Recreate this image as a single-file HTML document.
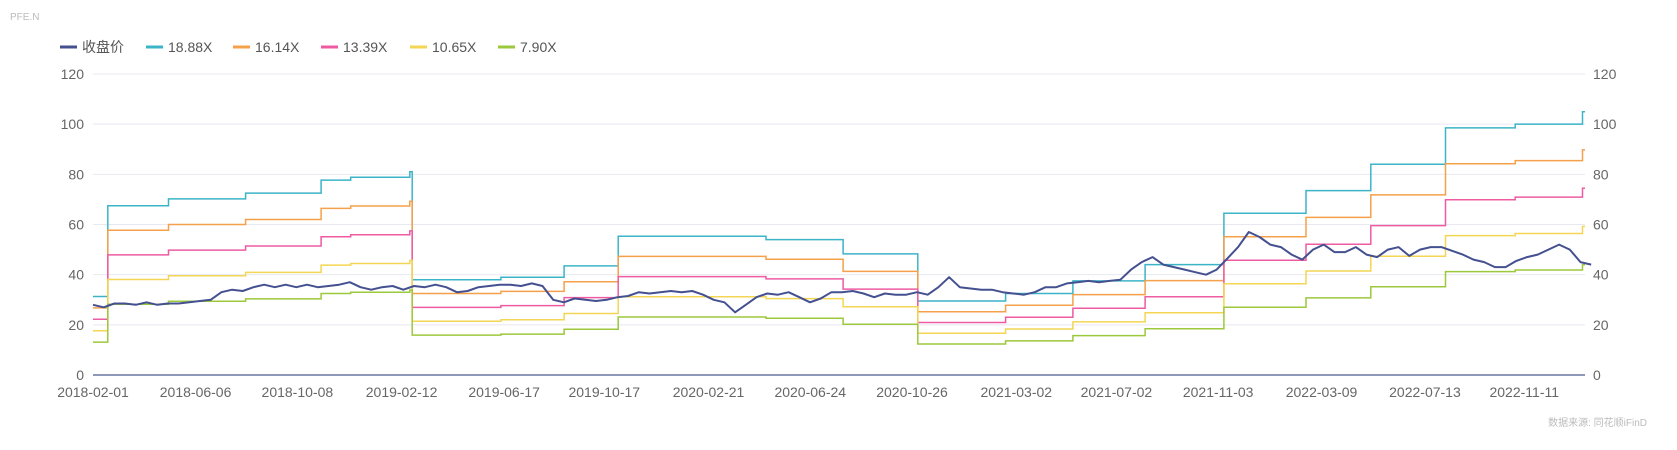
<!DOCTYPE html>
<html><head><meta charset="utf-8"><style>
html,body{margin:0;padding:0;background:#fff;}
svg{display:block;font-family:"Liberation Sans","Noto Sans CJK SC",sans-serif;}
</style></head><body>
<svg id="chart" width="1677" height="450" viewBox="0 0 1677 450">
<text x="10" y="20" font-size="10" fill="#bbb">PFE.N</text>
<g id="legend"></g>
<g id="grid"></g>
<g id="series"></g>
<g id="axes"></g>
<text x="1647" y="426" font-size="10" fill="#bbb" text-anchor="end">数据来源: 同花顺iFinD</text>
</svg>
<script>
const multiples = [18.88, 16.14, 13.39, 10.65, 7.90];
const bandNames = ["18.88X","16.14X","13.39X","10.65X","7.90X"];
const bandColors = ["#3cb4c8","#f5a04a","#ee5ba2","#f3d653","#9cc83c"];
const epsDates = ["2018-02-01","2018-02-19","2018-05-04","2018-08-06","2018-11-06","2018-12-12","2019-02-22","2019-02-25","2019-06-13","2019-08-29","2019-11-03","2020-05-01","2020-08-03","2020-11-02","2021-02-17","2021-05-10","2021-08-06","2021-11-10","2022-02-18","2022-05-08","2022-08-07","2022-10-31","2023-01-21"];
const epsValues = [1.658,3.575,3.718,3.840,4.115,4.174,4.29,2.013,2.066,2.304,2.929,2.860,2.558,1.5625,1.721,1.986,2.331,3.416,3.893,4.449,5.217,5.297,5.56];
const endDate = "2023-01-24";
const priceStart = "2018-02-01";
const priceStepDays = 13.04;
const priceValues = [28,27,28.5,28.5,28,29,28,28.5,28.5,29,29.5,30,33,34,33.5,35,36,35,36,35,36,35,35.5,36,37,35,34,35,35.5,34,35.5,35,36,35,33,33.5,35,35.5,36,36,35.5,36.5,35.5,30,29,30.5,30,29.5,30,31,31.5,33,32.5,33,33.5,33,33.5,32,30,29,25,28,31,32.5,32,33,31,29,30.5,33,33,33.5,32.5,31,32.5,32,32,33,32,35,39,35,34.5,34,34,33,32.5,32,33,35,35,36.5,37,37.5,37,37.5,38,42,45,47,44,43,42,41,40,42,46.5,51,57,55,52,51,48,46,50,52,49,49,51,48,47,50,51,47.5,50,51,51,49.5,48,46,45,43,43,45.5,47,48,50,52,50,45,44];
const yTicks = [0,20,40,60,80,100,120];
const xTickLabels = ["2018-02-01","2018-06-06","2018-10-08","2019-02-12","2019-06-17","2019-10-17","2020-02-21","2020-06-24","2020-10-26","2021-03-02","2021-07-02","2021-11-03","2022-03-09","2022-07-13","2022-11-11"];

const NS="http://www.w3.org/2000/svg";
const X0=93, X1=1585, Y0=375, Y1=74;
const D0=Date.parse("2018-02-01"), D1=Date.parse(endDate);
const xs=t=>X0+(t-D0)/(D1-D0)*(X1-X0);
const ys=v=>Y0-(v/120)*(Y0-Y1);
function mk(tag,attrs,parent){const e=document.createElementNS(NS,tag);for(const k in attrs)e.setAttribute(k,attrs[k]);parent.appendChild(e);return e;}
const grid=document.getElementById('grid'), axes=document.getElementById('axes'), ser=document.getElementById('series'), leg=document.getElementById('legend');

yTicks.forEach(v=>{
  if(v>0){const l=mk('line',{x1:X0,x2:X1,y1:ys(v),y2:ys(v),stroke:'#e8e8f0','stroke-width':1},grid);
  
  }
  const a=mk('text',{x:84,y:ys(v)+5,'font-size':14,fill:'#666','text-anchor':'end'},axes);a.textContent=v;
  
  
  const b=mk('text',{x:1593,y:ys(v)+5,'font-size':14,fill:'#666'},axes);b.textContent=v;
  
  
});
const ax=mk('line',{x1:X0,x2:X1,y1:Y0,y2:Y0,stroke:'#4a5a8f','stroke-width':1.2},axes);


xTickLabels.forEach(s=>{
  const t=mk('text',{x:xs(Date.parse(s)),y:397,'font-size':14,fill:'#666','text-anchor':'middle'},axes);t.textContent=s;
  
  
});

multiples.forEach((m,i)=>{
  let d='';
  epsDates.forEach((ds,j)=>{
    const x=xs(Date.parse(ds)), y=ys(epsValues[j]*m);
    d+= (j===0?'M':'L')+x.toFixed(1)+','+y.toFixed(1);
    const nx=xs(Date.parse(j+1<epsDates.length?epsDates[j+1]:endDate));
    d+='L'+nx.toFixed(1)+','+y.toFixed(1);
  });
  const p=mk('path',{d:d,fill:'none',stroke:bandColors[i],'stroke-width':1.5},ser);
  
  
});
let pd='';
const ps=Date.parse(priceStart);
priceValues.forEach((v,i)=>{const x=xs(ps+i*priceStepDays*86400000);pd+=(i?'L':'M')+x.toFixed(1)+','+ys(v).toFixed(1);});
const pl=mk('path',{d:pd,fill:'none',stroke:'#44508f','stroke-width':2,'stroke-linejoin':'round'},ser);



const legNames=["收盘价"].concat(bandNames), legColors=["#44508f"].concat(bandColors);
const legX=[60,146,233,321,410,498];
legNames.forEach((n,i)=>{
  const g=mk('g',{},leg);
  
  
  mk('line',{x1:legX[i],x2:legX[i]+17,y1:47,y2:47,stroke:legColors[i],'stroke-width':3},g);
  const t=mk('text',{x:legX[i]+22,y:52,'font-size':14,fill:'#555'},g);t.textContent=n;
});
</script>
</body></html>
